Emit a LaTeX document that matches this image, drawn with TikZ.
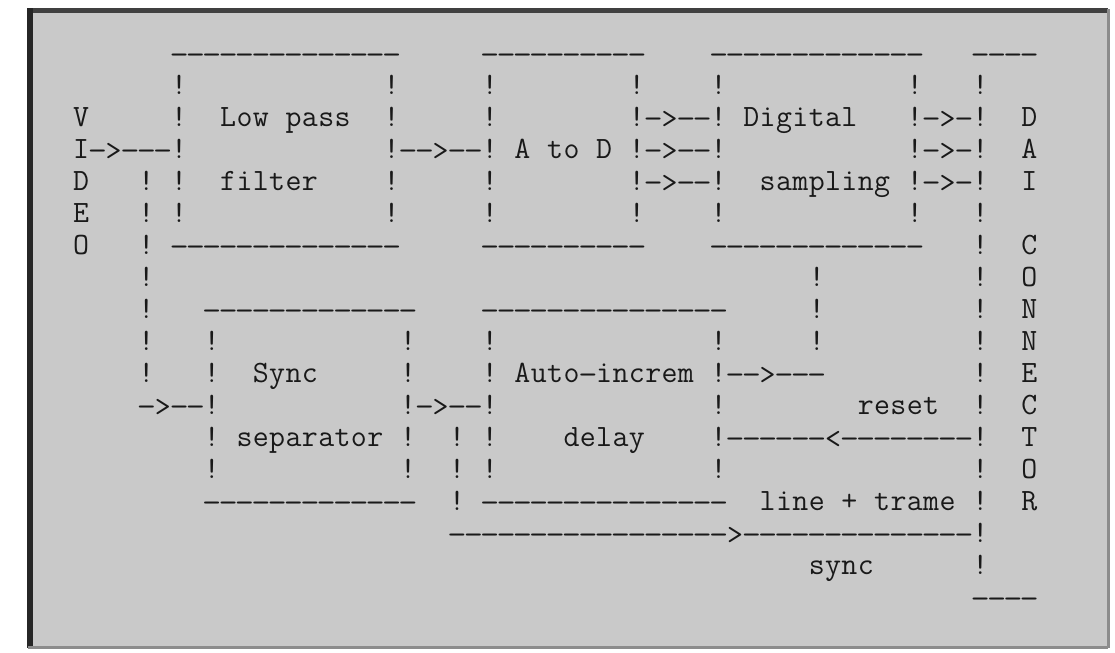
\documentclass[tikz,border=0pt]{standalone}
\usepackage{graphicx}

% Every character sits in a cell of one fixed width, like a typewriter;
% a '.' in the argument leaves its cell blank, and a hyphen is typed a
% little wider and lower so that runs of them read as ruled lines.
\makeatletter
\newlength\cellw
\setlength\cellw{8.175pt}
\newcommand\cells[1]{\cells@#1\@nil}
\def\cells@#1{%
  \ifx#1\@nil\else
    \makebox[\cellw][c]{%
      \ifx#1.\strut
      \else\ifx#1-\raisebox{-1.2pt}{\scalebox{1.2}[1]{-}}%
      \else\ifx#1>\raisebox{-1.2pt}{>}%
      \else\ifx#1<\raisebox{-1.2pt}{<}%
      \else#1\fi\fi\fi\fi}%
    \expandafter\cells@
  \fi}
\makeatother

\definecolor{paper}{gray}{0.79}
\definecolor{ink}{gray}{0.1}

\tikzset{
  typed/.style={anchor=base west, inner sep=0pt, outer sep=0pt,
    font=\fontsize{15.5pt}{16pt}\selectfont\ttfamily, text=ink},
}

% \tw{row}{column}{characters}: one run of typed characters on the grid
\newcommand\tw[3]{\node[typed] (t#1c#2) at ({81+16.35*#2-8.175},{62+32*#1}) {\cells{#3}};}

\begin{document}
\begin{tikzpicture}[x=0.5pt,y=-0.5pt]
\useasboundingbox (0,0) rectangle (1115,653);
\fill[white] (0,0) rectangle (1115,653);
% sheet and its edges
\fill[paper] (28,9) rectangle (1108,648);
\fill[black!75] (27,8) rectangle (1108,13);
\fill[black!85] (27,8) rectangle (33,648);
\draw[black!45, line width=1.5] (1108,9) -- (1108,648);
\draw[black!45, line width=1.5] (28,647) -- (1108,647);

% row 0
\tw{0}{6}{--------------}
\tw{0}{25}{----------}
\tw{0}{39}{-------------}
\tw{0}{55}{----}
% row 1
\tw{1}{6}{!} \tw{1}{19}{!} \tw{1}{25}{!} \tw{1}{34}{!} \tw{1}{39}{!} \tw{1}{51}{!} \tw{1}{55}{!}
% row 2
\tw{2}{0}{V} \tw{2}{6}{!} \tw{2}{9}{Low.pass} \tw{2}{19}{!} \tw{2}{25}{!}
\tw{2}{34}{!->--!} \tw{2}{41}{Digital} \tw{2}{51}{!->-!} \tw{2}{58}{D}
% row 3
\tw{3}{0}{I->---!} \tw{3}{19}{!-->--!} \tw{3}{27}{A.to.D} \tw{3}{34}{!->--!}
\tw{3}{51}{!->-!} \tw{3}{58}{A}
% row 4
\tw{4}{0}{D} \tw{4}{4}{!.!} \tw{4}{9}{filter} \tw{4}{19}{!} \tw{4}{25}{!}
\tw{4}{34}{!->--!} \tw{4}{42}{sampling} \tw{4}{51}{!->-!} \tw{4}{58}{I}
% row 5
\tw{5}{0}{E} \tw{5}{4}{!.!} \tw{5}{19}{!} \tw{5}{25}{!} \tw{5}{34}{!} \tw{5}{39}{!}
\tw{5}{51}{!} \tw{5}{55}{!}
% row 6
\tw{6}{0}{O} \tw{6}{4}{!} \tw{6}{6}{--------------} \tw{6}{25}{----------}
\tw{6}{39}{-------------} \tw{6}{55}{!} \tw{6}{58}{C}
% row 7
\tw{7}{4}{!} \tw{7}{45}{!} \tw{7}{55}{!} \tw{7}{58}{O}
% row 8
\tw{8}{4}{!} \tw{8}{8}{-------------} \tw{8}{25}{---------------} \tw{8}{45}{!}
\tw{8}{55}{!} \tw{8}{58}{N}
% row 9
\tw{9}{4}{!...!} \tw{9}{20}{!....!} \tw{9}{39}{!.....!} \tw{9}{55}{!} \tw{9}{58}{N}
% row 10
\tw{10}{4}{!...!} \tw{10}{11}{Sync} \tw{10}{20}{!....!} \tw{10}{27}{Auto-increm}
\tw{10}{39}{!-->---} \tw{10}{55}{!} \tw{10}{58}{E}
% row 11
\tw{11}{4}{->--!} \tw{11}{20}{!->--!} \tw{11}{39}{!} \tw{11}{48}{reset}
\tw{11}{55}{!} \tw{11}{58}{C}
% row 12
\tw{12}{8}{!} \tw{12}{10}{separator} \tw{12}{20}{!..!.!} \tw{12}{30}{delay}
\tw{12}{39}{!------<--------!} \tw{12}{58}{T}
% row 13
\tw{13}{8}{!} \tw{13}{20}{!..!.!} \tw{13}{39}{!} \tw{13}{55}{!} \tw{13}{58}{O}
% row 14
\tw{14}{8}{-------------} \tw{14}{23}{!} \tw{14}{25}{---------------}
\tw{14}{42}{line.+.trame} \tw{14}{55}{!} \tw{14}{58}{R}
% row 15
\tw{15}{23}{----------------->--------------!}
% row 16
\tw{16}{45}{sync} \tw{16}{55}{!}
% row 17
\tw{17}{55}{----}
\end{tikzpicture}
\end{document}
